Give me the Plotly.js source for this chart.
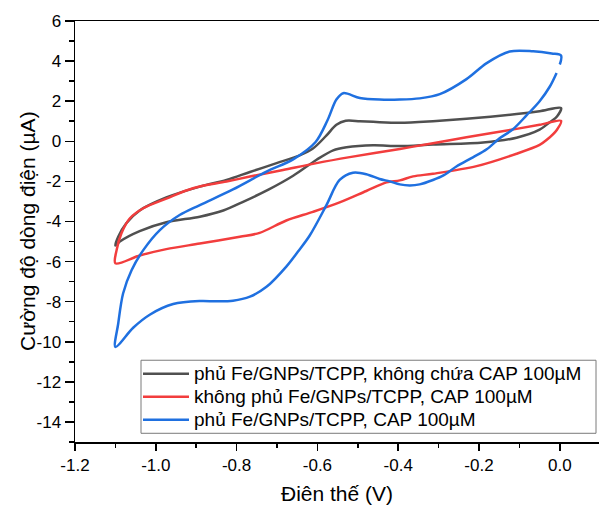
<!DOCTYPE html>
<html>
<head>
<meta charset="utf-8">
<script src="https://cdn.plot.ly/plotly-3.0.1.min.js"></script>
<style>html,body{margin:0;padding:0;background:#fff;}#chart{width:599px;height:505px;}</style>
</head>
<body>
<div id="chart"></div>
<script>
// Series names (legend)
const seriesNames = [
  "phủ Fe/GNPs/TCPP, không chứa CAP 100µM",
  "không phủ Fe/GNPs/TCPP, CAP 100µM",
  "phủ Fe/GNPs/TCPP, CAP 100µM"
];
const seriesColors = ['#505050', '#f23d3d', '#1f70e0'];

// Black: coated, no CAP  (potential V, current µA)
const blackV = [0.003, -0.007, -0.025, -0.05, -0.107, -0.19, -0.314, -0.396, -0.462, -0.528, -0.561, -0.602, -0.66, -0.72, -0.784, -0.833, -0.891, -0.974, -1.04, -1.089, -1.1,
                -1.093, -1.073, -1.04, -0.974, -0.891, -0.825, -0.767, -0.701, -0.644, -0.611, -0.578, -0.553, -0.53, -0.495, -0.462, -0.396, -0.314, -0.231, -0.107, -0.05, 0.003];
const blackI = [1.66, 1.24, 0.95, 0.58, 0.18, -0.06, -0.16, -0.24, -0.2, -0.3, -0.45, -0.92, -1.72, -2.4, -3.02, -3.45, -3.76, -4.04, -4.48, -5.0, -5.2,
                -4.76, -4.09, -3.45, -2.8, -2.26, -1.93, -1.53, -1.09, -0.7, -0.36, 0.28, 0.82, 1.02, 1.0, 0.97, 0.92, 1.0, 1.12, 1.36, 1.5, 1.66];

// Red: uncoated, CAP 100 µM
const redV = [0.003, -0.007, -0.033, -0.05, -0.107, -0.206, -0.314, -0.363, -0.396, -0.429, -0.479, -0.545, -0.611, -0.677, -0.743, -0.792, -0.891, -0.974, -1.04, -1.1,
              -1.097, -1.085, -1.064, -1.031, -0.974, -0.908, -0.825, -0.767, -0.685, -0.602, -0.52, -0.396, -0.314, -0.231, -0.107, -0.05, 0.003];
const redI = [1.02, 0.58, 0.06, -0.18, -0.62, -1.24, -1.62, -1.75, -1.95, -2.05, -2.48, -3.05, -3.52, -3.95, -4.57, -4.76, -5.1, -5.38, -5.7, -6.09,
              -5.43, -4.59, -3.84, -3.34, -2.86, -2.34, -2.01, -1.76, -1.43, -1.09, -0.79, -0.38, -0.1, 0.2, 0.62, 0.82, 1.02];

// Blue: coated, CAP 100 µM
const blueV = [-0.008, -0.025, -0.05, -0.082, -0.116, -0.149, -0.181, -0.215, -0.256, -0.288, -0.314, -0.347, -0.371, -0.396, -0.421, -0.446, -0.479, -0.512, -0.545, -0.578, -0.619, -0.648, -0.677, -0.726, -0.767, -0.809, -0.85, -0.891, -0.957, -1.015, -1.056, -1.1,
               -1.093, -1.081, -1.06, -1.031, -0.99, -0.941, -0.891, -0.809, -0.726, -0.66, -0.605, -0.575, -0.553, -0.536, -0.495, -0.446, -0.396, -0.347, -0.297, -0.231, -0.181, -0.124, -0.066, -0.02, 0.003, 0.0];
const blueI = [3.41, 2.72, 2.0, 1.3, 0.6, 0.15, -0.4, -0.8, -1.26, -1.7, -1.93, -2.15, -2.2, -2.15, -2.0, -1.88, -1.64, -1.57, -1.93, -3.2, -4.7, -5.5, -6.25, -7.26, -7.75, -7.95, -7.98, -7.97, -8.12, -8.65, -9.3, -10.26,
               -9.09, -7.59, -6.43, -5.43, -4.43, -3.68, -3.18, -2.4, -1.51, -0.9, -0.05, 1.05, 2.08, 2.4, 2.16, 2.08, 2.08, 2.14, 2.35, 3.1, 3.9, 4.48, 4.49, 4.38, 4.28, 3.83];

// Axis ticks
const xTickVals = [-1.2, -1.0, -0.8, -0.6, -0.4, -0.2, 0.0];
const xTickText = ["-1.2", "-1.0", "-0.8", "-0.6", "-0.4", "-0.2", "0.0"];
const yTickVals = [6, 4, 2, 0, -2, -4, -6, -8, -10, -12, -14];
const yTickText = ["6", "4", "2", "0", "-2", "-4", "-6", "-8", "-10", "-12", "-14"];

const FONT = "Liberation Sans, Arial, sans-serif";
const lineStyle = (c) => ({color: c, width: 2.5, shape: 'spline', smoothing: 0.9});

const traces = [
  {x: blackV, y: blackI, name: seriesNames[0], mode: 'lines', line: lineStyle(seriesColors[0])},
  {x: redV, y: redI, name: seriesNames[1], mode: 'lines', line: lineStyle(seriesColors[1])},
  {x: blueV, y: blueI, name: seriesNames[2], mode: 'lines', line: lineStyle(seriesColors[2])}
];

// Plot area in pixels (for converting the hand-drawn legend box to paper coords)
const PL = 75, PR = 599, PT = 21, PB = 441.7;
const px = (v) => (v - PL) / (PR - PL);
const py = (v) => (PB - v) / (PB - PT);

const legendRows = [373.5, 396.5, 419.5];
const shapes = [
  {type: 'rect', xref: 'paper', yref: 'paper', x0: px(141), x1: px(596), y0: py(433), y1: py(360),
   line: {color: '#7a7a7a', width: 1}, fillcolor: '#fff', layer: 'above'}
];
const annotations = [
  {xref: 'paper', yref: 'paper', x: -0.092, y: py(231), text: 'Cường độ dòng điện (µA)', showarrow: false,
   textangle: -90, xanchor: 'center', yanchor: 'middle', font: {family: FONT, size: 21, color: '#000'}}
];
seriesNames.forEach((name, i) => {
  shapes.push({type: 'line', xref: 'paper', yref: 'paper', x0: px(143), x1: px(189), y0: py(legendRows[i]), y1: py(legendRows[i]),
               line: {color: seriesColors[i], width: 2.5}, layer: 'above'});
  annotations.push({xref: 'paper', yref: 'paper', x: px(192), y: py(legendRows[i]), text: name, showarrow: false,
                    xanchor: 'left', yanchor: 'middle', font: {family: FONT, size: 19, color: '#000'}});
});

const layout = {
  width: 599, height: 505,
  margin: {l: PL, r: 599 - PR, t: PT, b: 505 - PB},
  paper_bgcolor: '#fff', plot_bgcolor: '#fff',
  font: {family: FONT, color: '#000'},
  showlegend: false,
  shapes: shapes,
  annotations: annotations,
  xaxis: {
    range: [-1.2, 0.097], showgrid: false, zeroline: false,
    showline: true, linecolor: '#000', linewidth: 1.5, mirror: true,
    ticks: 'outside', ticklen: 7, tickwidth: 1.5, tickcolor: '#000',
    tickvals: xTickVals, ticktext: xTickText,
    tickfont: {family: FONT, size: 17, color: '#000'},
    minor: {dtick: 0.1, tick0: -1.2, ticks: 'outside', ticklen: 4, tickwidth: 1.5, tickcolor: '#000', showgrid: false},
    title: {text: 'Điên thế (V)', font: {family: FONT, size: 21, color: '#000'}, standoff: 12}
  },
  yaxis: {
    range: [-15, 6], showgrid: false, zeroline: false,
    showline: true, linecolor: '#000', linewidth: 1.5,
    ticks: 'outside', ticklen: 9, tickwidth: 1.5, tickcolor: '#000',
    tickvals: yTickVals, ticktext: yTickText,
    tickfont: {family: FONT, size: 17, color: '#000'},
    minor: {dtick: 1, tick0: 0, ticks: 'outside', ticklen: 5, tickwidth: 1.5, tickcolor: '#000', showgrid: false}
  }
};

Plotly.newPlot('chart', traces, layout, {displayModeBar: false, staticPlot: true});
</script>
</body>
</html>
